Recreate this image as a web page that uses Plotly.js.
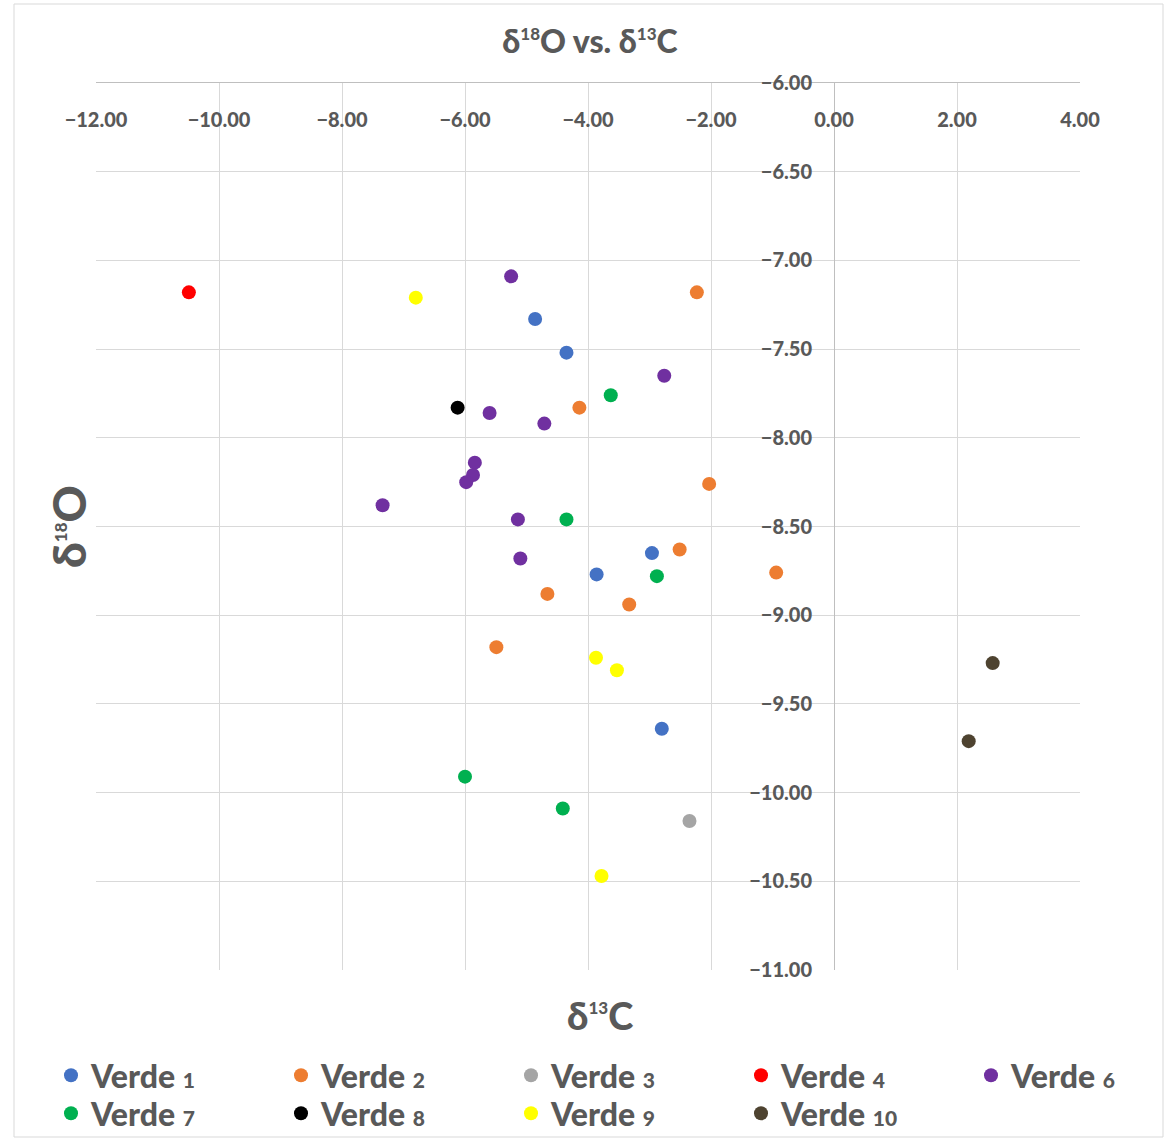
<!DOCTYPE html>
<html>
<head>
<meta charset="utf-8">
<script src="https://cdn.plot.ly/plotly-3.0.1.min.js"></script>
<style>html,body{margin:0;padding:0;background:#fff;}#chart{width:1167px;height:1139px;}</style>
</head>
<body>
<div id="chart"></div>
<script>
// Series names and colours
var seriesNames = ["Verde 1", "Verde 2", "Verde 3", "Verde 4", "Verde 6", "Verde 7", "Verde 8", "Verde 9", "Verde 10"];
var seriesColors = ["#4472C4", "#ED7D31", "#A5A5A5", "#FF0000", "#7030A0", "#00B050", "#000000", "#FFFF00", "#4E4330"];

// δ13C (x) values per series
var verde1_x = [-4.86, -4.35, -2.96, -3.86, -2.80];
var verde2_x = [-2.23, -4.14, -2.03, -2.51, -0.94, -4.66, -3.33, -5.49];
var verde3_x = [-2.35];
var verde4_x = [-10.49];
var verde6_x = [-5.25, -2.76, -5.60, -4.71, -5.84, -5.87, -5.98, -7.34, -5.14, -5.10];
var verde7_x = [-3.63, -4.35, -2.88, -6.00, -4.41];
var verde8_x = [-6.12];
var verde9_x = [-6.80, -3.87, -3.53, -3.78];
var verde10_x = [2.58, 2.19];

// δ18O (y) values per series
var verde1_y = [-7.33, -7.52, -8.65, -8.77, -9.64];
var verde2_y = [-7.18, -7.83, -8.26, -8.63, -8.76, -8.88, -8.94, -9.18];
var verde3_y = [-10.16];
var verde4_y = [-7.18];
var verde6_y = [-7.09, -7.65, -7.86, -7.92, -8.14, -8.21, -8.25, -8.38, -8.46, -8.68];
var verde7_y = [-7.76, -8.46, -8.78, -9.91, -10.09];
var verde8_y = [-7.83];
var verde9_y = [-7.21, -9.24, -9.31, -10.47];
var verde10_y = [-9.27, -9.71];

var xs = [verde1_x, verde2_x, verde3_x, verde4_x, verde6_x, verde7_x, verde8_x, verde9_x, verde10_x];
var ys = [verde1_y, verde2_y, verde3_y, verde4_y, verde6_y, verde7_y, verde8_y, verde9_y, verde10_y];
// legend box each series is listed in (row 1: cols 1-2, 3-4, 5; row 2: cols 1-2, 3-4)
var legendIds = ["legend", "legend", "legend2", "legend2", "legend3", "legend4", "legend4", "legend5", "legend5"];

var textColor = "#595959";
var FONT = "Lato, 'Open Sans', sans-serif";

function legendName(n) {
  var parts = n.split(" ");
  return parts[0] + ' <span style="font-size:21px">' + parts[1] + '</span>';
}

var traces = seriesNames.map(function (n, i) {
  return {
    type: "scatter",
    mode: "markers",
    name: legendName(n),
    x: xs[i],
    y: ys[i],
    marker: { color: seriesColors[i], size: 14 },
    legend: legendIds[i],
    hoverinfo: "x+y+name"
  };
});

var legendCommon = {
  orientation: "h",
  xanchor: "left",
  yanchor: "top",
  yref: "container",
  entrywidth: 185,
  entrywidthmode: "pixels",
  font: { family: FONT, size: 32, color: textColor, weight: 900 },
  bgcolor: "rgba(0,0,0,0)",
  itemsizing: "trace",
  tracegroupgap: 0
};

var row1Y = 1 - 1048 / 1139;
var row2Y = 1 - 1086 / 1139;
var col1X = (51 - 96) / 984;
var col3X = (511 - 96) / 984;
var col5X = (971 - 96) / 984;

function sup(t) { return '<sup><span style="font-size:17px">' + t + '</span></sup>'; }

var layout = {
  width: 1167,
  height: 1139,
  paper_bgcolor: "#ffffff",
  plot_bgcolor: "#ffffff",
  margin: { l: 96, r: 87, t: 83, b: 169, autoexpand: false },
  showlegend: true,
  title: {
    text: "δ" + sup("18") + "O vs. δ" + sup("13") + "C",
    font: { family: FONT, size: 32, color: textColor, weight: 900 },
    x: 0.502, xref: "paper", xanchor: "center",
    y: 1 - 42 / 1139, yref: "container", yanchor: "middle"
  },
  xaxis: {
    range: [-12, 4],
    dtick: 2,
    tick0: 0,
    tickformat: ".2f",
    side: "top",
    showline: true,
    linecolor: "#bfbfbf",
    linewidth: 1,
    mirror: false,
    showgrid: true,
    gridcolor: "#d9d9d9",
    gridwidth: 1,
    zeroline: false,
    ticks: "",
    ticklabelposition: "inside",
    ticklabeloverflow: "allow",
    ticklabelstandoff: 31,
    tickfont: { family: FONT, size: 20, color: textColor, weight: 900 },
    fixedrange: true
  },
  yaxis: {
    range: [-11, -6],
    dtick: 0.5,
    tick0: 0,
    tickformat: ".2f",
    anchor: "free",
    position: 0.75,
    side: "left",
    showline: true,
    linecolor: "#bfbfbf",
    linewidth: 1,
    showgrid: true,
    gridcolor: "#d9d9d9",
    gridwidth: 1,
    zeroline: false,
    ticks: "",
    ticklabelstandoff: 18,
    tickfont: { family: FONT, size: 20, color: textColor, weight: 900 },
    fixedrange: true
  },
  legend: Object.assign({}, legendCommon, { x: col1X, y: row1Y }),
  legend2: Object.assign({}, legendCommon, { x: col3X, y: row1Y }),
  legend3: Object.assign({}, legendCommon, { x: col5X, y: row1Y }),
  legend4: Object.assign({}, legendCommon, { x: col1X, y: row2Y }),
  legend5: Object.assign({}, legendCommon, { x: col3X, y: row2Y }),
  annotations: [
    {
      text: "δ" + sup("13") + "C",
      xref: "paper", yref: "paper",
      x: (600 - 96) / 984, y: (970 - 1015) / 887,
      xanchor: "center", yanchor: "middle",
      showarrow: false,
      font: { family: FONT, size: 38, color: textColor, weight: 900 }
    },
    {
      text: "δ" + sup("18") + "O",
      xref: "paper", yref: "paper",
      x: (68 - 96) / 984, y: (970 - 527) / 887,
      xanchor: "center", yanchor: "middle",
      textangle: -90,
      showarrow: false,
      font: { family: FONT, size: 46, color: textColor, weight: 900 }
    }
  ],
  shapes: [
    {
      type: "rect", xref: "paper", yref: "paper",
      x0: (14 - 96) / 984, x1: (1163 - 96) / 984,
      y0: (970 - 1137) / 887, y1: (970 - 4) / 887,
      line: { color: "#d9d9d9", width: 1 },
      fillcolor: "rgba(0,0,0,0)",
      layer: "below"
    }
  ]
};

Plotly.newPlot("chart", traces, layout, { displayModeBar: false, staticPlot: true });
</script>
</body>
</html>
